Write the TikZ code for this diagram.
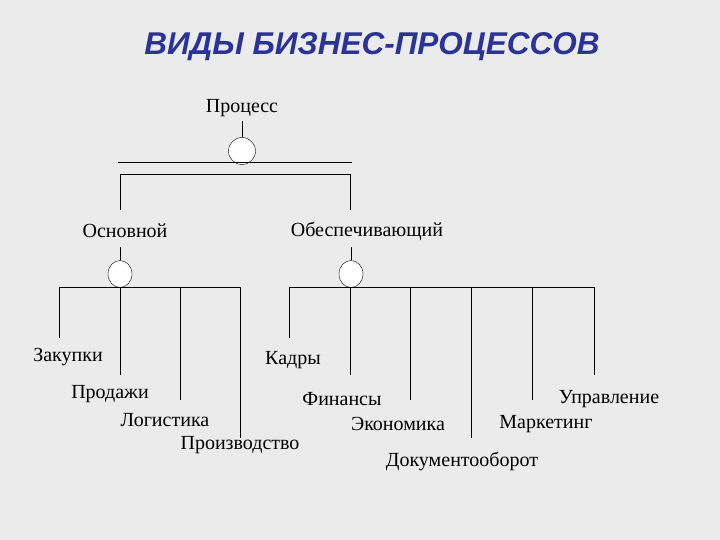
\documentclass[tikz,border=0pt]{standalone}
\usepackage{fontspec}
\setmainfont{Liberation Serif}
\newfontfamily\titlefont{Liberation Sans}
\usetikzlibrary{shapes.geometric}
\definecolor{bg}{HTML}{EBEBEB}
\definecolor{ttl}{HTML}{2B3494}
\begin{document}
\begin{tikzpicture}[x=1pt,y=-1pt,
  lbl/.style={inner sep=0pt,font=\fontsize{20}{23}\selectfont},
  knot/.style={draw,fill=white,ellipse,minimum width=24pt,minimum height=27pt,inner sep=0pt},
  ln/.style={line width=0.9pt}]
\fill[bg] (0,0) rectangle (720,540);
\node[font=\titlefont\bfseries\itshape\fontsize{31.5}{36}\selectfont,text=ttl] (title) at (372,47) {ВИДЫ БИЗНЕС-ПРОЦЕССОВ};
\node[lbl] (p) at (242,108) {Процесс};
\node[knot,minimum width=27pt] (c0) at (242,151) {};
\draw[ln] (242,121) -- (c0.north);
\coordinate (h0l) at (118,162); \coordinate (h0r) at (352,162);
\draw[ln] (h0l) -- (h0r);
\coordinate (h1l) at (120,174); \coordinate (h1r) at (350,174);
\coordinate (v1) at (120,210); \coordinate (v2) at (350,210);
\draw[ln] (v1) -- (h1l) -- (h1r) -- (v2);
\node[lbl] (osn) at (125,231) {Основной};
\node[lbl] (obs) at (367,231) {Обеспечивающий};
\node[knot] (c1) at (120,274) {};
\node[knot] (c2) at (351,274) {};
\draw[ln] (120,247) -- (c1.north);
\draw[ln] (351,247) -- (c2.north);
% left branch
\coordinate (a1) at (59,287); \coordinate (a4) at (240,287);
\draw[ln] (a1) -- (a4);
\foreach \x/\y in {59/338,120/375,180/400,240/438}{\draw[ln] (\x,287) -- (\x,\y);}
% right branch
\draw[ln] (289,287) -- (594,287);
\foreach \x/\y in {289/338,350/375,410/400,471/438,532/400,594/375}{\draw[ln] (\x,287) -- (\x,\y);}
\node[lbl] (t1) at (68,357) {Закупки};
\node[lbl] (t2) at (110,394) {Продажи};
\node[lbl] (t3) at (165,420) {Логистика};
\node[lbl] (t4) at (240,445) {Производство};
\node[lbl] (t5) at (293,360) {Кадры};
\node[lbl] (t6) at (342,399) {Финансы};
\node[lbl] (t7) at (398,424) {Экономика};
\node[lbl] (t8) at (462,461) {Документооборот};
\node[lbl] (t9) at (546,424) {Маркетинг};
\node[lbl] (t10) at (609,399) {Управление};
\end{tikzpicture}
\end{document}
